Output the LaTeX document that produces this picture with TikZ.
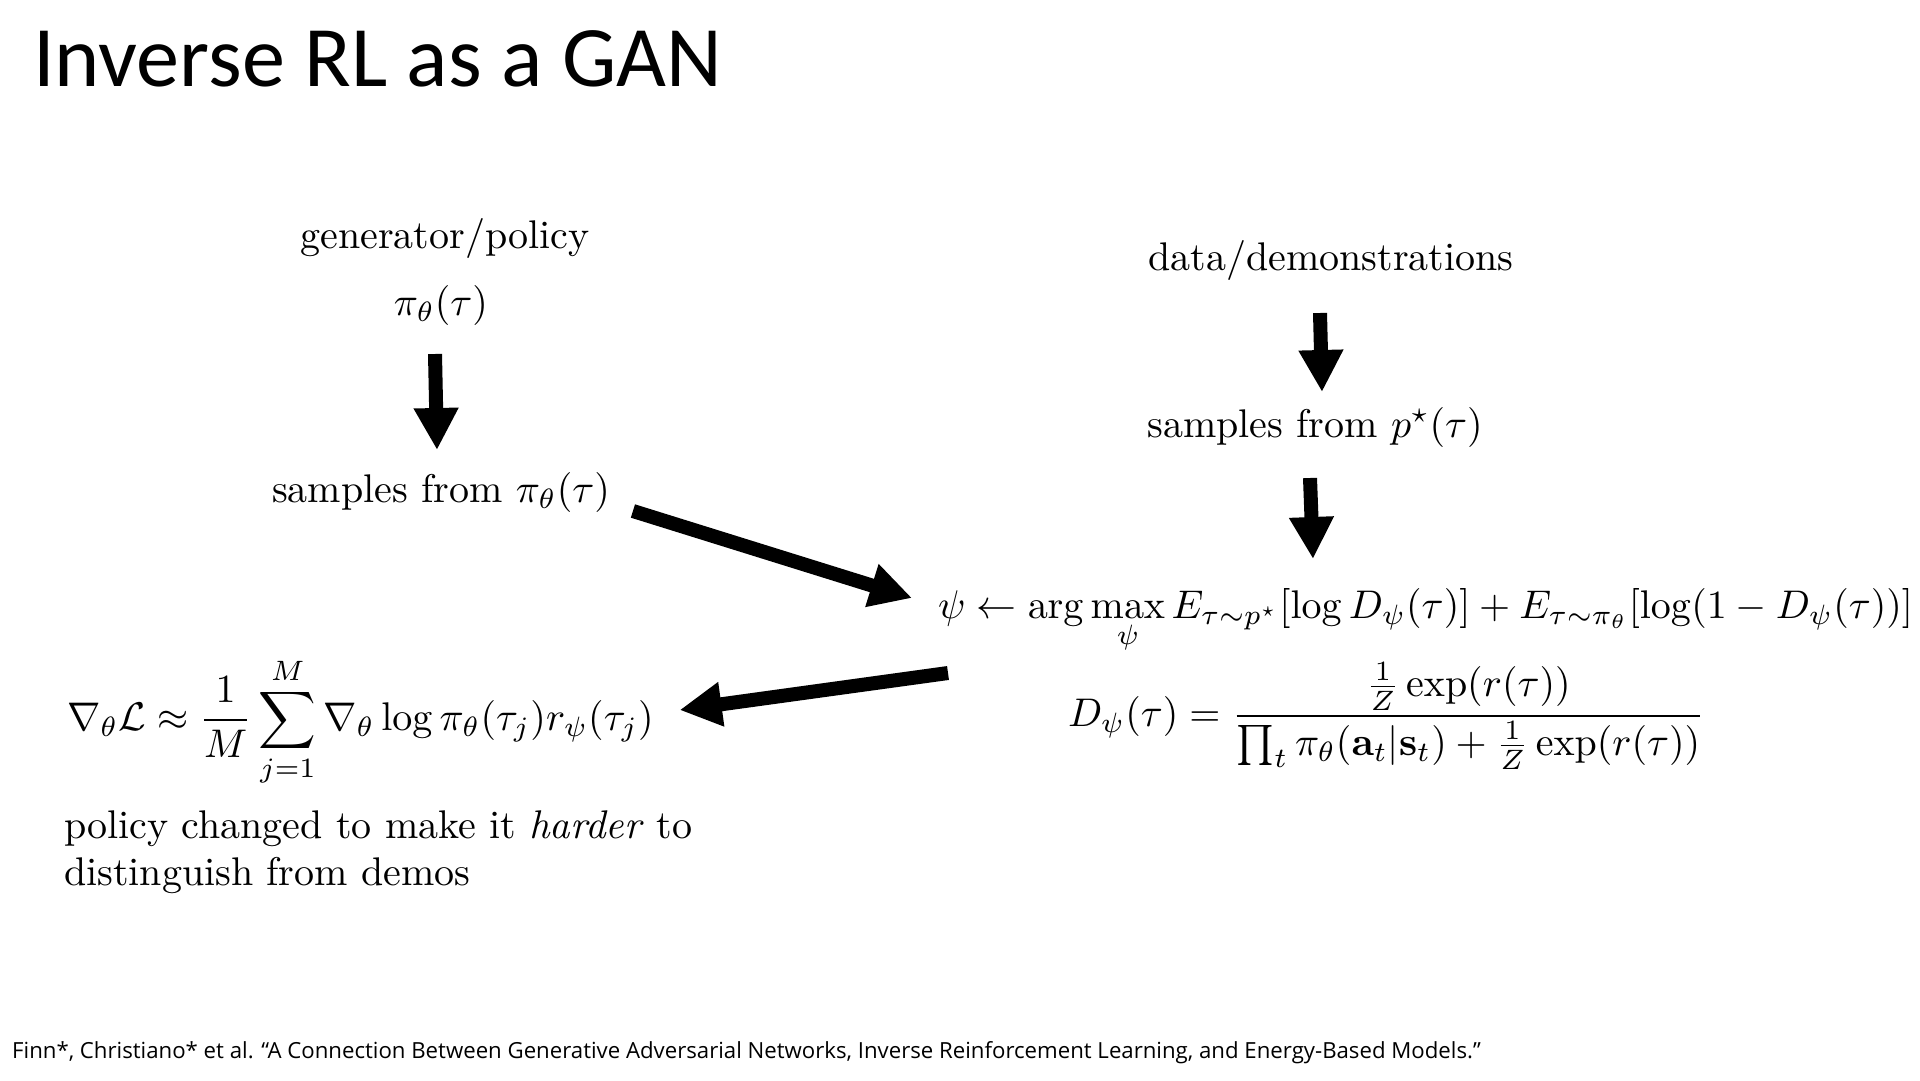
\documentclass[tikz,border=0pt]{standalone}
\usepackage{amsmath}
\usepackage{amssymb}
\usepackage{graphicx}
\usepackage[no-math]{fontspec}
\setmainfont{lmroman10-regular}[Extension=.otf, ItalicFont=lmroman10-italic, BoldFont=lmroman10-bold]
\newfontfamily\titlefont{Carlito}
\newfontfamily\citefont{Open Sans}
\usepackage{tikz}
\usetikzlibrary{arrows.meta,positioning}
\newcommand{\slide}[1]{\scalebox{4}{#1}}

\begin{document}
\begin{tikzpicture}[x=1pt, y=-1pt,
    lbl/.style={inner sep=0pt, outer sep=0pt, font=\fontsize{10}{11.7}\selectfont},
    bigarrow/.style={-{Triangle[length=42pt,width=42pt]}, line width=14pt}]
    \useasboundingbox (0,0) rectangle (1920,1080);

    \node[inner sep=0pt, anchor=base west, font=\titlefont\fontsize{86.2}{90}\selectfont] (title) at (33,86) {Inverse RL as a GAN};

    % generator side
    \node[lbl, anchor=base] (gen) at (445,248) {\slide{generator/policy}};
    \node[lbl, anchor=base] (pigen) at (441,315) {\slide{$\pi_\theta(\tau)$}};
    \node[lbl, anchor=base] (sampgen) at (441,502) {\slide{samples from $\pi_\theta(\tau)$}};

    % data side
    \node[lbl, anchor=base] (data) at (1331,270) {\slide{data/demonstrations}};
    \node[lbl, anchor=base] (sampdata) at (1315,437) {\slide{samples from $p^\star(\tau)$}};

    % discriminator
    \node[lbl, anchor=base west] (disc) at (938,618) {\slide{$\displaystyle \psi \leftarrow \arg\max_\psi E_{\tau\sim p^\star}[\log D_\psi(\tau)] + E_{\tau\sim\pi_\theta}[\log(1-D_\psi(\tau))]$}};
    \node[lbl, anchor=base west] (dform) at (1068,726) {\slide{$\displaystyle D_\psi(\tau) = \frac{\frac{1}{Z}\exp(r(\tau))}{\prod_t \pi_\theta(\mathbf{a}_t|\mathbf{s}_t) + \frac{1}{Z}\exp(r(\tau))}$}};

    % policy update
    \node[lbl, anchor=base west] (grad) at (67,730) {\slide{$\displaystyle \nabla_\theta\mathcal{L} \approx \frac{1}{M}\sum_{j=1}^M \nabla_\theta \log\pi_\theta(\tau_j) r_\psi(\tau_j)$}};
    \node[lbl, anchor=base west] (note) at (64,885) {\slide{\begin{tabular}[b]{@{}l@{}}policy changed to make it \textit{harder} to\\distinguish from demos\end{tabular}}};

    \node[inner sep=0pt, anchor=base west, font=\citefont\fontsize{22.2}{26}\selectfont] (cite) at (12,1058) {Finn*, Christiano* et al. “A Connection Between Generative Adversarial Networks, Inverse Reinforcement Learning, and Energy-Based Models.”};

    \draw[bigarrow] ([xshift=-6pt, yshift=-39pt]pigen.base) -- ([xshift=-4pt, yshift=52pt]sampgen.base);
    \draw[bigarrow] ([xshift=-11pt, yshift=-43pt]data.base) -- ([xshift=7pt, yshift=45pt]sampdata.base);
    \draw[bigarrow] ([xshift=-5pt, yshift=-41pt]sampdata.base) -- ([xshift=375pt, yshift=59pt]disc.base west);
    \draw[bigarrow] ([xshift=23pt, yshift=-9pt]sampgen.base east) -- ([xshift=-26pt, yshift=20pt]disc.base west);
    \draw[bigarrow] ([xshift=-120pt, yshift=53pt]dform.base west) -- ([xshift=26pt, yshift=20pt]grad.base east);
\end{tikzpicture}
\end{document}
